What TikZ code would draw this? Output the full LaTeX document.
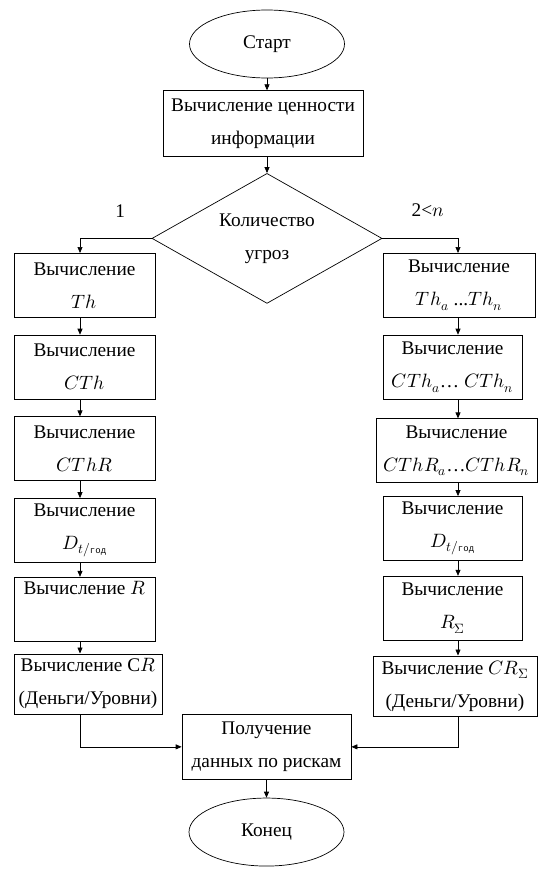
\documentclass[tikz,border=0pt]{standalone}
\usepackage{fontspec}
\usepackage{unicode-math}
\setmainfont{Liberation Serif}
\setmonofont{Liberation Mono}
\usetikzlibrary{shapes.geometric, arrows.meta, positioning}
\newcommand{\flowfont}{\rmfamily\fontsize{19.3}{33}\selectfont}
\tikzset{
  term/.style={ellipse, draw=black, line width=0.7pt, minimum width=155pt,
               minimum height=68pt, inner sep=0pt, font=\flowfont},
  proc/.style={rectangle, draw=black, line width=0.7pt, minimum width=141pt,
               minimum height=64pt, align=center, inner sep=2pt, font=\flowfont},
  decision/.style={diamond, shape aspect=1.77, draw=black, line width=0.7pt, minimum width=230pt,
               minimum height=130pt, inner sep=0pt, align=center, font=\flowfont},
  farrow/.style={-{Triangle[length=6pt,width=5pt]}, draw=black, line width=0.7pt},
  blabel/.style={font=\flowfont, inner sep=2pt},
}
\begin{document}
\begin{tikzpicture}
\useasboundingbox (0,0) rectangle (544pt,-873pt);

% ---- top ----
\node[term] (start) at (267pt,-44pt) {Старт};
\node[proc, below=12pt of start, xshift=-4pt, minimum width=200pt, minimum height=66pt] (info)
  {Вычисление ценности\\информации};
\node[decision, below=16pt of info, xshift=4pt] (dec) {Количество\\угроз};

\coordinate (lx) at (80pt,0);
\coordinate (rx) at (458pt,0);

% ---- left branch (one threat) ----
\node[proc, anchor=north] (L1) at (84.5pt,-253pt) {Вычисление\\$Th$};
\node[proc, below=17pt of L1] (L2) {Вычисление\\$CTh$};
\node[proc, below=17pt of L2] (L3) {Вычисление\\$CThR$};
\node[proc, below=17pt of L3] (L4) {Вычисление\\$D_{t/\text{\ttfamily\small год}}$};
\node[proc, below=14pt of L4] (L5) {Вычисление $R$\\\strut};
\node[proc, below=12pt of L5, xshift=3.5pt, minimum width=148pt, minimum height=60pt] (L6)
  {Вычисление C$R$\\(Деньги/Уровни)};

% ---- right branch (n threats) ----
\node[proc, anchor=north, minimum width=152pt] (R1) at (459pt,-253pt) {Вычисление\\$Th_a$ ...$Th_n$};
\node[proc, below=17pt of R1, xshift=-6.5pt, minimum width=139pt] (R2) {Вычисление\\$CTh_a$… $CTh_n$};
\node[proc, below=19pt of R2, xshift=4pt, minimum width=161pt] (R3) {Вычисление\\$CThR_a$…$CThR_n$};
\node[proc, below=13pt of R3, xshift=-4pt, minimum width=139pt] (R4) {Вычисление\\$D_{t/\text{\ttfamily\small год}}$};
\node[proc, below=15pt of R4, minimum width=139pt] (R5) {Вычисление\\$R_{\mitSigma}$};
\node[proc, below=15pt of R5, xshift=2.5pt, minimum width=164pt, minimum height=60pt] (R6)
  {Вычисление $CR_{\mitSigma}$\\(Деньги/Уровни)};

% ---- bottom ----
\node[proc, anchor=north, minimum width=169pt, minimum height=65pt] (get) at (266.5pt,-714pt)
  {Получение\\данных по рискам};
\node[term, below=18pt of get] (end) {Конец};

% ---- connectors ----
\draw[farrow] (start.south) -- (start.south |- info.north);
\draw[farrow] (info.south -| dec.north) -- (dec.north);
\draw[farrow] (dec.west) -| node[blabel, pos=0.22, above=19pt] {1} (L1.north -| lx);
\draw[farrow] (dec.east) -| node[blabel, pos=0.3, above=19pt] {2<$n$} (R1.north -| rx);
\foreach \a/\b in {L1/L2,L2/L3,L3/L4,L4/L5,L5/L6}
  \draw[farrow] (\a.south -| lx) -- (\b.north -| lx);
\foreach \a/\b in {R1/R2,R2/R3,R3/R4,R4/R5,R5/R6}
  \draw[farrow] (\a.south -| rx) -- (\b.north -| rx);
\draw[farrow] (L6.south -| lx) |- (get.west);
\draw[farrow] (R6.south -| rx) |- (get.east);
\draw[farrow] (get.south) -- (end.north);

\end{tikzpicture}
\end{document}
